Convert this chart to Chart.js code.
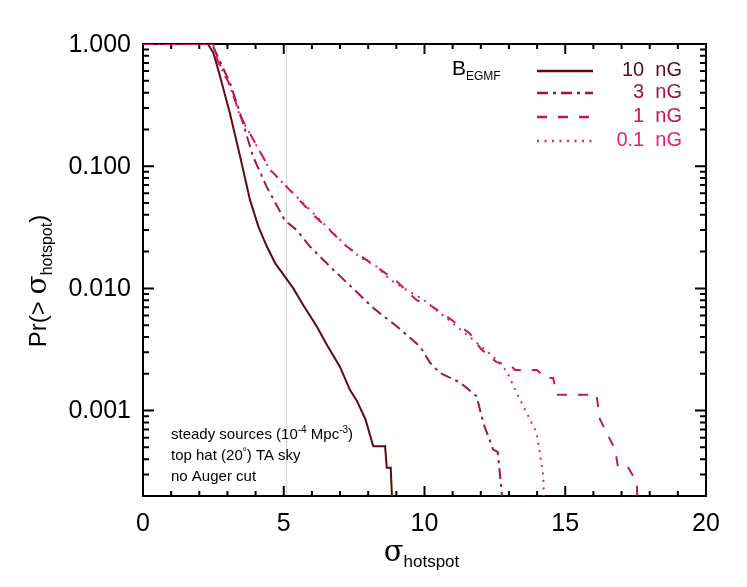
<!DOCTYPE html>
<html>
<head>
<meta charset="utf-8">
<script src="https://cdn.jsdelivr.net/npm/chart.js@4.4.1/dist/chart.umd.min.js"></script>
<style>
  html, body { margin: 0; padding: 0; background: #fff; }
  #wrap { width: 747px; height: 587px; }
</style>
</head>
<body>
<div id="wrap"><canvas id="hotspotChart" width="747" height="587"></canvas></div>
<script>
// sigma_hotspot (x) and Pr(> sigma_hotspot) (y), one pair per B_EGMF
const sigma10 = [0, 2.3, 2.5, 2.74, 3.09, 3.45, 3.8, 4.1, 4.4, 4.7, 5.04, 5.34, 5.69, 6.17, 6.55, 6.99, 7.35, 7.6, 7.9, 8.18, 8.6, 8.66, 8.8, 8.9];
const prob10  = [1, 1, 0.85, 0.54, 0.27, 0.12, 0.053, 0.032, 0.022, 0.016, 0.0125, 0.010, 0.0073, 0.0049, 0.0034, 0.0023, 0.00148, 0.0012, 0.00085, 0.00051, 0.00051, 0.00034, 0.00034, 0.0001];

const sigma3 = [0, 2.45, 2.6, 3.09, 3.45, 3.91, 4.39, 5.04, 5.46, 5.93, 6.76, 7.0, 7.5, 8.18, 9.01, 9.84, 10.2, 10.55, 11.26, 11.85, 12.09, 12.44, 12.6, 12.74, 12.8];
const prob3  = [1, 1, 0.84, 0.48, 0.27, 0.12, 0.068, 0.036, 0.030, 0.022, 0.0142, 0.0126, 0.0098, 0.0069, 0.0049, 0.00335, 0.00246, 0.00203, 0.0017, 0.00131, 0.00079, 0.00048, 0.00046, 0.00022, 0.0001];

const sigma1 = [0, 2.5, 2.62, 3.09, 3.45, 3.92, 4.51, 5.1, 6.05, 7.24, 8.3, 9.0, 9.72, 10.2, 10.97, 11.6, 12.0, 12.55, 13.1, 13.21, 14.0, 14.28, 14.57, 14.7, 16.11, 16.23, 16.77, 16.88, 17.24, 17.54, 17.6];
const prob1  = [1, 1, 0.76, 0.46, 0.26, 0.165, 0.094, 0.068, 0.040, 0.022, 0.0150, 0.0115, 0.0080, 0.0073, 0.0055, 0.0043, 0.0032, 0.0025, 0.0023, 0.00215, 0.00215, 0.00185, 0.00185, 0.00135, 0.00135, 0.00085, 0.00048, 0.00034, 0.00034, 0.00026, 0.0001];

const sigma01 = [0, 2.5, 2.62, 3.09, 3.45, 3.92, 4.51, 5.1, 6.17, 7.24, 7.71, 8.3, 8.77, 9.37, 9.96, 10.55, 11.14, 11.73, 12.44, 12.92, 13.27, 13.63, 13.98, 14.1, 14.22, 14.26];
const prob01  = [1, 1, 0.74, 0.45, 0.255, 0.164, 0.093, 0.068, 0.0387, 0.022, 0.018, 0.0151, 0.0118, 0.0097, 0.0081, 0.0063, 0.0049, 0.0038, 0.00277, 0.0021, 0.0014, 0.00096, 0.00066, 0.00045, 0.00029, 0.0001];

const fieldLabels = ['10', '3', '1', '0.1'];
const xTicks = [0, 5, 10, 15, 20];
const yTicks = [1, 0.1, 0.01, 0.001];
const yTickLabels = ['1.000', '0.100', '0.010', '0.001'];
const refSigma = 5.1;

const colors = ['#5e0a14', '#a3124a', '#c8155a', '#ec1a78'];
const dashes = [[], [11, 5, 3, 5], [10, 11], [2, 5.5]];

const toPoints = (xs, ys) => xs.map((v, i) => ({ x: v, y: ys[i] }));
const series = [
  toPoints(sigma10, prob10),
  toPoints(sigma3, prob3),
  toPoints(sigma1, prob1),
  toPoints(sigma01, prob01)
];

const SANS = '"Liberation Sans", Arial, Helvetica, sans-serif';
const SERIF = '"DejaVu Serif", "Liberation Serif", serif';

// draws a row of text pieces: [text, font, dy]
function drawRuns(ctx, runs, x, y, align) {
  let w = 0;
  runs.forEach(r => { ctx.font = r[1]; w += ctx.measureText(r[0]).width; });
  let cx = align === 'center' ? x - w / 2 : align === 'right' ? x - w : x;
  ctx.textAlign = 'left';
  ctx.textBaseline = 'alphabetic';
  runs.forEach(r => {
    ctx.font = r[1];
    ctx.fillText(r[0], cx, y + (r[2] || 0));
    cx += ctx.measureText(r[0]).width;
  });
}

const frame = {
  id: 'frame',
  beforeDatasetsDraw(chart) {
    const { ctx, chartArea: a, scales: { x, y } } = chart;
    ctx.save();
    // reference line at sigma = 5
    const px = x.getPixelForValue(refSigma);
    ctx.strokeStyle = '#d4d4d4';
    ctx.lineWidth = 1;
    ctx.beginPath();
    ctx.moveTo(px, a.top);
    ctx.lineTo(px, a.bottom);
    ctx.stroke();

    // box, drawn under the curves
    ctx.strokeStyle = '#000';
    ctx.lineWidth = 2;
    ctx.strokeRect(a.left, a.top, a.right - a.left, a.bottom - a.top);

    // inward ticks on all four sides
    ctx.beginPath();
    for (let v = 0; v <= 20; v++) {
      const p = x.getPixelForValue(v);
      const len = v % 5 === 0 ? 10 : 5;
      ctx.moveTo(p, a.bottom); ctx.lineTo(p, a.bottom - len);
      ctx.moveTo(p, a.top); ctx.lineTo(p, a.top + len);
    }
    for (let e = -4; e <= 0; e++) {
      for (let m = 1; m <= 9; m++) {
        const v = m * Math.pow(10, e);
        if (v < y.min || v > y.max * 1.0001) continue;
        const p = y.getPixelForValue(v);
        const len = m === 1 ? 11 : 6;
        ctx.moveTo(a.left, p); ctx.lineTo(a.left + len, p);
        ctx.moveTo(a.right, p); ctx.lineTo(a.right - len, p);
      }
    }
    ctx.stroke();
    ctx.restore();
  },
  afterDraw(chart) {
    const { ctx, chartArea: a, scales: { x, y } } = chart;
    ctx.save();
    ctx.fillStyle = '#000';

    // tick labels
    ctx.font = '25px ' + SANS;
    ctx.textAlign = 'center';
    ctx.textBaseline = 'alphabetic';
    xTicks.forEach(v => ctx.fillText(String(v), x.getPixelForValue(v), a.bottom + 35));
    ctx.textAlign = 'right';
    ctx.textBaseline = 'middle';
    yTicks.forEach((v, i) => ctx.fillText(yTickLabels[i], a.left - 12, y.getPixelForValue(v) + 1));

    // axis titles
    drawRuns(ctx, [['\u03c3', '29px ' + SERIF, 0], ['hotspot', '17px ' + SANS, 6]], (a.left + a.right) / 2 - 3, a.bottom + 65, 'center');
    ctx.save();
    ctx.translate(46, 281);
    ctx.rotate(-Math.PI / 2);
    drawRuns(ctx, [['Pr(> ', '24px ' + SANS, 0], ['\u03c3', '28px ' + SERIF, 0], ['hotspot', '16px ' + SANS, 6], [')', '24px ' + SANS, 0]], 0, 0, 'center');
    ctx.restore();

    // legend
    drawRuns(ctx, [['B', '21px ' + SANS, 0], ['EGMF', '12px ' + SANS, 5]], 452, 75, 'left');
    const lineY = [71, 93, 117, 141];
    chart.data.datasets.forEach((ds, i) => {
      ctx.save();
      ctx.strokeStyle = ds.borderColor;
      ctx.lineWidth = 2.5;
      ctx.setLineDash(ds.borderDash);
      ctx.beginPath();
      ctx.moveTo(537, lineY[i]);
      ctx.lineTo(593, lineY[i]);
      ctx.stroke();
      ctx.restore();
      ctx.fillStyle = ds.borderColor;
      drawRuns(ctx, [[fieldLabels[i] + '  nG', '20px ' + SANS, 0]], 682, lineY[i] + 5, 'right');
    });

    // annotation
    ctx.fillStyle = '#000';
    const f = '15px ' + SANS, s = '10px ' + SANS;
    drawRuns(ctx, [['steady sources (10', f, 0], ['-4', s, -6], [' Mpc', f, 0], ['-3', s, -6], [')', f, 0]], 171, 439, 'left');
    drawRuns(ctx, [['top hat (20', f, 0], ['\u00b0', s, -5], [') TA sky', f, 0]], 171, 460, 'left');
    drawRuns(ctx, [['no Auger cut', f, 0]], 171, 481, 'left');
    ctx.restore();
  }
};

new Chart(document.getElementById('hotspotChart').getContext('2d'), {
  type: 'line',
  data: {
    datasets: series.map((pts, i) => ({
      label: fieldLabels[i] + ' nG',
      data: pts,
      borderColor: colors[i],
      borderDash: dashes[i],
      borderWidth: 2,
      pointRadius: 0,
      fill: false,
      tension: 0,
      order: 3 - i
    }))
  },
  options: {
    responsive: false,
    animation: false,
    layout: { padding: { left: 143, right: 41, top: 44, bottom: 91 } },
    plugins: { legend: { display: false }, tooltip: { enabled: false } },
    scales: {
      x: { type: 'linear', min: 0, max: 20, display: false },
      y: { type: 'logarithmic', min: 2e-4, max: 1, display: false }
    }
  },
  plugins: [frame]
});
</script>
</body>
</html>
